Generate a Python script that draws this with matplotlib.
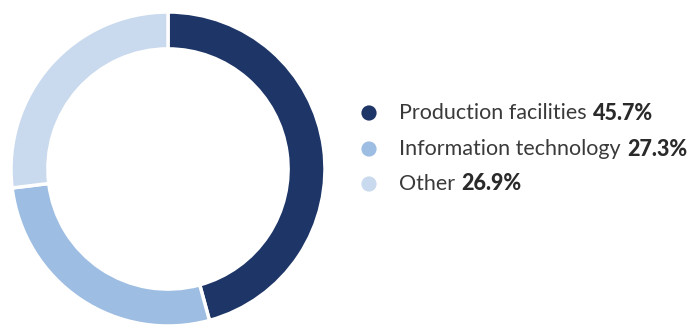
import matplotlib
matplotlib.use("Agg")
import matplotlib.pyplot as plt

categories = ["Production facilities", "Information technology", "Other"]
shares = [45.7, 27.3, 26.9]
value_labels = ["45.7%", "27.3%", "26.9%"]
colors = ["#1e3667", "#9dbde2", "#c9d9ee"]

W, H = 695, 327
fig = plt.figure(figsize=(W / 100, H / 100), dpi=100)
fig.patch.set_facecolor("white")

# Donut: centre (168, 169) px, outer radius 157 px
cx, cy, r = 168, 169, 157
ax = fig.add_axes([(cx - r) / W, (H - cy - r) / H, 2 * r / W, 2 * r / H])
ax.pie(shares, colors=colors, startangle=90, counterclock=False,
       radius=1.0, wedgeprops=dict(width=0.235, edgecolor="white", linewidth=2.5))
ax.set_xlim(-1, 1)
ax.set_ylim(-1, 1)
ax.set_aspect("equal")
ax.axis("off")

# Legend with bullet markers and bold values
font = "Lato"
fs = 15.5
text_color = "#3a3a3a"
marker_x = 369
text_x = 399
rows_y = [113, 149, 184]

lax = fig.add_axes([0, 0, 1, 1], facecolor="none")
lax.set_xlim(0, W)
lax.set_ylim(H, 0)
lax.axis("off")

fig.canvas.draw()
renderer = fig.canvas.get_renderer()
for name, val, col, y in zip(categories, value_labels, colors, rows_y):
    lax.scatter([marker_x], [y], s=120, color=col, edgecolors="none")
    t = lax.text(text_x, y, name + " ", fontsize=fs, family=font,
                 color=text_color, va="center", ha="left")
    bb = t.get_window_extent(renderer=renderer)
    lax.text(bb.x1 + 1, H - y, val, fontsize=fs, family=font, fontweight="black",
             color="#2a2a2a", va="center", ha="left", transform=None)

fig.savefig("out.png", dpi=100, facecolor="white")
